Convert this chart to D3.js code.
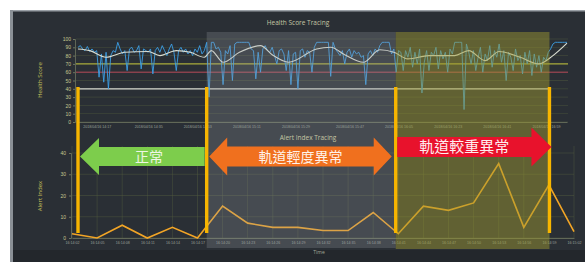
<!DOCTYPE html>
<html>
<head>
<meta charset="utf-8">
<title>Health Score / Alert Index Tracing</title>
<script src="https://d3js.org/d3.v7.min.js"></script>
<style>
body { margin: 0; background: #ffffff; }
svg { display: block; font-family: "Open Sans", "DejaVu Sans", sans-serif; }
.tick text { fill: #9aa29a; }
.ytick .tick text { fill: #c9c78e; }
.cjk { font-family: "Noto Sans CJK TC", "Noto Sans CJK SC", sans-serif; }
</style>
</head>
<body>
<div id="chart"></div>
<script>

// health score samples (left to right)
var healthScore = [
  90, 92, 88, 86, 91, 85, 88, 84, 86, 54, 82, 48, 84, 40, 80, 86, 84, 96, 88, 82, 86, 62, 88, 90, 84, 86, 92, 64, 88, 86,
  84, 88, 58, 86, 90, 84, 92, 86, 80, 88, 94, 84, 62, 86, 90, 84, 88, 82, 86, 80, 88, 84, 92, 82, 86, 96, 30, 96, 96, 88,
  90, 84, 45, 86, 82, 92, 50, 94, 96, 96, 96, 96, 96, 96, 88, 86, 52, 84, 60, 88, 92, 86, 84, 90, 80, 70, 86, 88, 82, 62,
  86, 45, 82, 84, 40, 86, 88, 78, 86, 84, 60, 90, 96, 96, 96, 96, 96, 96, 55, 96, 88, 84, 80, 86, 70, 84, 88, 78, 86, 82,
  84, 78, 80, 45, 82, 86, 80, 88, 84, 92, 96, 96, 96, 96, 82, 88, 60, 86, 84, 62, 86, 78, 90, 66, 84, 70, 88, 35, 72, 86,
  62, 84, 80, 90, 64, 86, 76, 84, 60, 88, 82, 96, 96, 96, 96, 15, 94, 84, 70, 86, 62, 78, 90, 60, 82, 74, 92, 66, 86, 78,
  94, 72, 86, 50, 84, 78, 62, 88, 74, 80, 58, 84, 70, 86, 56, 82, 66, 80, 60, 78, 74, 84, 88, 94, 96, 96, 96, 96, 96, 96
];

// smoothed trend (white line): sample index and value
var trendIdx = [0, 5, 12, 20, 30, 35, 42, 48, 54, 57, 62, 69, 78, 83, 90, 102, 108, 114, 122, 129, 135, 141, 150, 161, 167, 174, 180, 189, 197, 203, 209];
var trendVal = [88, 86, 78, 84, 85, 80, 86, 84, 78, 86, 72, 84, 92, 81, 72, 88, 90, 81, 72, 87, 84, 76, 80, 80, 86, 74, 85, 78, 70, 80, 95];

var healthTickIdx = [8, 30, 51, 72, 93, 116, 137, 158, 179, 200];
var healthTickLabels = ["2018/04/16 14:17", "2018/04/16 14:35", "2018/04/16 14:53", "2018/04/16 15:11",
  "2018/04/16 15:29", "2018/04/16 15:47", "2018/04/16 16:05", "2018/04/16 16:23", "2018/04/16 16:41", "2018/04/16 16:59"];

// alert index, one value per time step
var alertIndex = [2, 0, 6, 0, 5, 0, 15, 7, 5, 5, 3.5, 3.5, 12, 2, 15, 13, 16.5, 35, 5, 25, 3];
var alertTimes = ["16:14:02", "16:14:05", "16:14:08", "16:14:11", "16:14:14", "16:14:17", "16:14:20",
  "16:14:23", "16:14:26", "16:14:29", "16:14:32", "16:14:35", "16:14:38", "16:14:41", "16:14:44",
  "16:14:47", "16:14:50", "16:14:53", "16:14:56", "16:14:59", "16:15:02"];

// phase boundaries, in health-score sample index
var phaseBounds = [0, 55, 135.8, 201.5];
var phaseLabels = ["正常", "軌道輕度異常", "軌道較重異常"];

var thresholds = [70, 60, 40];

var width = 585, height = 262;

var svg = d3.select("#chart").append("svg")
    .attr("width", width)
    .attr("height", height);

// dark panel
svg.append("rect").attr("x", 10).attr("y", 10).attr("width", 575).attr("height", 252).attr("fill", "#2a2f35");
svg.append("rect").attr("x", 10).attr("y", 10).attr("width", 575).attr("height", 1.5).attr("fill", "#9aa0a6");
svg.append("rect").attr("x", 10).attr("y", 10).attr("width", 3).attr("height", 252).attr("fill", "#8a9096");
svg.append("rect").attr("x", 13).attr("y", 250).attr("width", 572).attr("height", 12).attr("fill", "#23272c");

// scales
var xTop = d3.scaleLinear().domain([0, healthScore.length - 1]).range([78, 567]);
var yTop = d3.scaleLinear().domain([0, 100]).range([122, 39]);
var xBot = d3.scaleLinear().domain([0, alertIndex.length - 1]).range([72, 574]);
var yBot = d3.scaleLinear().domain([0, 40]).range([238, 153]);

// ---- top chart grid + axes
svg.append("g").selectAll("line").data(d3.range(0, 101, 10)).join("line")
    .attr("x1", 76).attr("x2", 568)
    .attr("y1", function(d) { return yTop(d); }).attr("y2", function(d) { return yTop(d); })
    .attr("stroke", "#55603f").attr("stroke-width", 0.6).attr("opacity", 0.7);

var gyTop = svg.append("g").attr("class", "ytick")
    .attr("transform", "translate(75,0)")
    .call(d3.axisLeft(yTop).tickValues(d3.range(0, 101, 10)).tickSize(2).tickPadding(2));
gyTop.selectAll("text").style("font-size", "5px");

var gxTop = svg.append("g")
    .attr("transform", "translate(0,122)")
    .call(d3.axisBottom(xTop).tickValues(healthTickIdx).tickSize(0).tickPadding(3)
      .tickFormat(function(d, i) { return healthTickLabels[i]; }));
gxTop.selectAll("text").style("font-size", "3.6px");

// ---- bottom chart grid + axes
svg.append("g").selectAll("line").data(d3.range(0, 41, 10)).join("line")
    .attr("x1", 72).attr("x2", 574)
    .attr("y1", function(d) { return yBot(d); }).attr("y2", function(d) { return yBot(d); })
    .attr("stroke", "#55603f").attr("stroke-width", 0.6).attr("opacity", 0.7);
svg.append("g").selectAll("line").data(alertIndex).join("line")
    .attr("x1", function(d, i) { return xBot(i); }).attr("x2", function(d, i) { return xBot(i); })
    .attr("y1", 146).attr("y2", 238)
    .attr("stroke", "#55603f").attr("stroke-width", 0.6).attr("opacity", 0.7);

var gyBot = svg.append("g").attr("class", "ytick")
    .attr("transform", "translate(71,0)")
    .call(d3.axisLeft(yBot).tickValues(d3.range(0, 41, 10)).tickSize(2).tickPadding(3));
gyBot.selectAll("text").style("font-size", "5px");

var gxBot = svg.append("g")
    .attr("transform", "translate(0,238)")
    .call(d3.axisBottom(xBot).tickValues(d3.range(alertIndex.length)).tickSize(0).tickPadding(3)
      .tickFormat(function(d) { return alertTimes[d]; }));
gxBot.selectAll("text").style("font-size", "3.6px");

svg.selectAll(".domain").attr("stroke", "#6d7560").attr("stroke-width", 0.8);
svg.selectAll(".tick line").attr("stroke", "#6d7560");

// threshold lines
var thrColor = ["#d4d23c", "#c0465a", "#d6d8d2"];
svg.append("g").selectAll("line").data(thresholds).join("line")
    .attr("x1", function(d, i) { return i === 2 ? xTop(phaseBounds[0]) : 76; })
    .attr("x2", function(d, i) { return i === 2 ? xTop(phaseBounds[3]) : 568; })
    .attr("y1", function(d) { return yTop(d); }).attr("y2", function(d) { return yTop(d); })
    .attr("stroke", function(d, i) { return thrColor[i]; })
    .attr("stroke-width", function(d, i) { return i === 2 ? 1.2 : 0.9; });

// health score line
svg.append("path")
    .datum(healthScore)
    .attr("fill", "none")
    .attr("stroke", "#3c9fe6")
    .attr("stroke-width", 0.9)
    .attr("d", d3.line().x(function(d, i) { return xTop(i); }).y(function(d) { return yTop(d); }));

// trend line
svg.append("path")
    .datum(trendIdx)
    .attr("fill", "none")
    .attr("stroke", "#d9ddd2")
    .attr("stroke-width", 1.1)
    .attr("d", d3.line().curve(d3.curveMonotoneX)
      .x(function(d) { return xTop(d); })
      .y(function(d, i) { return yTop(trendVal[i]); }));

// alert index line
svg.append("path")
    .datum(alertIndex)
    .attr("fill", "none")
    .attr("stroke", "#f2a526")
    .attr("stroke-width", 1.6)
    .attr("d", d3.line().x(function(d, i) { return xBot(i); }).y(function(d) { return yBot(d); }));

// highlighted phases
svg.append("rect")
    .attr("x", xTop(phaseBounds[1])).attr("width", xTop(phaseBounds[2]) - xTop(phaseBounds[1]))
    .attr("y", 32).attr("height", 216)
    .attr("fill", "#9aa0a6").attr("opacity", 0.25);
svg.append("rect")
    .attr("x", xTop(phaseBounds[2])).attr("width", xTop(phaseBounds[3]) - xTop(phaseBounds[2]))
    .attr("y", 32).attr("height", 217)
    .attr("fill", "#a09c30").attr("opacity", 0.47);

// yellow phase markers
svg.append("g").selectAll("rect").data(phaseBounds).join("rect")
    .attr("x", function(d) { return xTop(d) - 1.7; })
    .attr("width", 3.4)
    .attr("y", 87).attr("height", 146)
    .attr("fill", "#f7b500");

// arrows
var b = phaseBounds.map(function(d) { return xTop(d); });
function arrowPath(x0, x1, cy, sh, hh, hl, left, right) {
  var p = [];
  if (left) {
    p.push([x0, cy], [x0 + hl, cy - hh], [x0 + hl, cy - sh]);
  } else {
    p.push([x0, cy - sh]);
  }
  if (right) {
    p.push([x1 - hl, cy - sh], [x1 - hl, cy - hh], [x1, cy], [x1 - hl, cy + hh], [x1 - hl, cy + sh]);
  } else {
    p.push([x1, cy - sh], [x1, cy + sh]);
  }
  if (left) {
    p.push([x0 + hl, cy + sh], [x0 + hl, cy + hh]);
  } else {
    p.push([x0, cy + sh]);
  }
  return d3.line()(p) + "Z";
}

var arrows = [
  { x0: b[0] + 2, x1: b[1] - 2, cy: 156.5, sh: 9.5, hh: 18.5, hl: 19, l: true, r: false, c: "#7dcd4c", t: "#eef6e4" },
  { x0: b[1] + 2.5, x1: b[2] - 4, cy: 156.5, sh: 10, hh: 19, hl: 18, l: true, r: true, c: "#f0701e", t: "#fff3ea" },
  { x0: b[2] + 1.5, x1: b[3] + 2, cy: 147, sh: 10, hh: 19.5, hl: 20, l: false, r: true, c: "#e8122c", t: "#ffeef0" }
];

svg.append("g").selectAll("path").data(arrows).join("path")
    .attr("d", function(d) { return arrowPath(d.x0, d.x1, d.cy, d.sh, d.hh, d.hl, d.l, d.r); })
    .attr("fill", function(d) { return d.c; });

svg.append("g").selectAll("text").data(arrows).join("text")
    .attr("class", "cjk")
    .attr("x", function(d, i) { return i === 0 ? 149 : (d.x0 + d.x1) / 2 - (i === 2 ? 10 : 0); })
    .attr("y", function(d) { return d.cy + 5; })
    .attr("text-anchor", "middle")
    .style("font-size", function(d, i) { return i === 2 ? "15px" : "14px"; })
    .attr("fill", function(d) { return d.t; })
    .text(function(d, i) { return phaseLabels[i]; });

// titles and axis labels
svg.append("text").attr("x", 298).attr("y", 25).attr("text-anchor", "middle")
    .style("font-size", "6.5px").attr("fill", "#c4c6a4").text("Health Score Tracing");
svg.append("text").attr("x", 308).attr("y", 140).attr("text-anchor", "middle")
    .style("font-size", "6.5px").attr("fill", "#c4c6a4").text("Alert Index Tracing");
svg.append("text").attr("x", 319).attr("y", 254).attr("text-anchor", "middle")
    .style("font-size", "5px").attr("fill", "#a4a89a").text("Time");
svg.append("text").attr("transform", "translate(42,80) rotate(-90)").attr("text-anchor", "middle")
    .style("font-size", "6px").attr("fill", "#c9c25c").text("Health Score");
svg.append("text").attr("transform", "translate(42,196) rotate(-90)").attr("text-anchor", "middle")
    .style("font-size", "6px").attr("fill", "#c9c25c").text("Alert Index");

</script>
</body>
</html>
